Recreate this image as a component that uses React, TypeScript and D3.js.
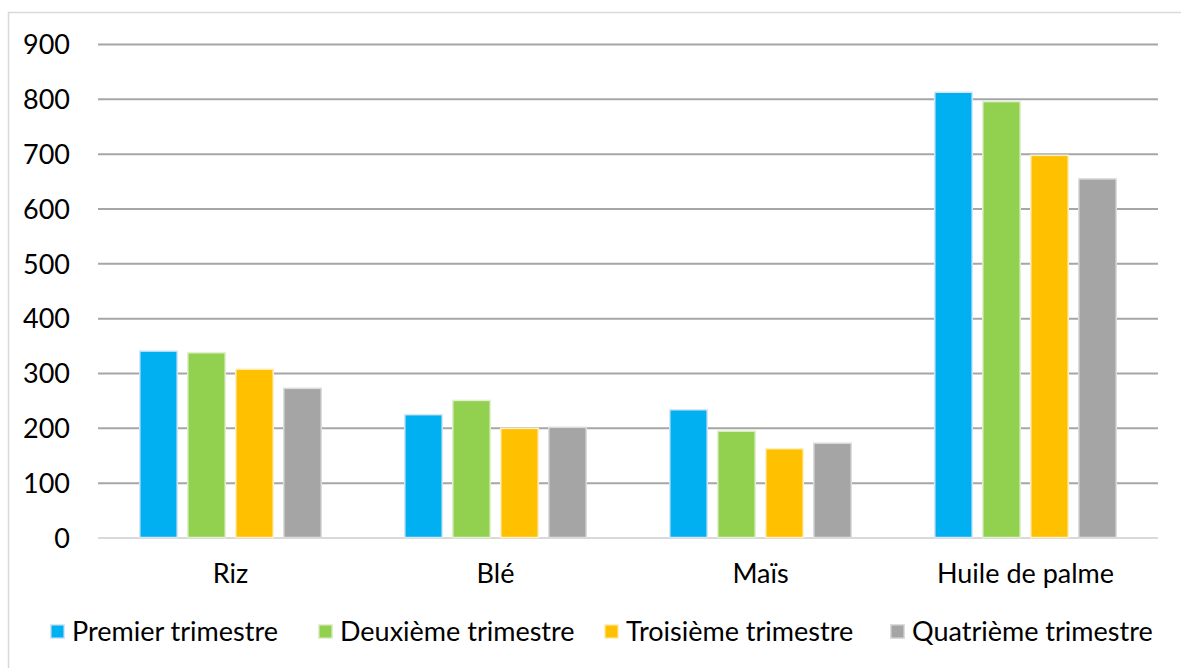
import { useEffect, useRef } from "react";
import { select, scaleLinear, scaleBand, axisLeft, axisBottom } from "d3";

// 数据：类别与四个季度的数值
const categories = ["Riz", "Blé", "Maïs", "Huile de palme"];
const seriesNames = [
  "Premier trimestre",
  "Deuxième trimestre",
  "Troisième trimestre",
  "Quatrième trimestre",
];
const premier = [340, 224, 233, 812];
const deuxieme = [337, 250, 194, 795];
const troisieme = [307, 199, 162, 697];
const quatrieme = [272, 201, 172, 654];
const yTicks = [0, 100, 200, 300, 400, 500, 600, 700, 800, 900];

const colors = ["#00b0f0", "#92d050", "#ffc000", "#a5a5a5"];
const strokes = ["#d6e6f7", "#e2f0cf", "#fff0c2", "#dcdcdc"];

const WIDTH = 1181;
const HEIGHT = 668;
const FONT = "Lato, 'Open Sans', sans-serif";
const FONT_SIZE = 27;

const drawChart = (el: SVGSVGElement) => {
  const svg = select(el);
  svg.selectAll("*").remove();

  const values = [premier, deuxieme, troisieme, quatrieme];

  const marginLeft = 98,
    marginRight = 23;
  const plotTop = 44,
    plotBottom = 537.5;

  // 比例尺
  const y = scaleLinear([0, 900], [plotBottom, plotTop]);
  const x = scaleBand(categories, [marginLeft, WIDTH - marginRight]);
  const xInner = scaleBand(seriesNames, [0, x.bandwidth()])
    .paddingInner(0.22)
    .paddingOuter(0.87);

  // 外框
  svg
    .append("rect")
    .attr("x", 8.5)
    .attr("y", 12.5)
    .attr("width", WIDTH + 20)
    .attr("height", HEIGHT + 20)
    .attr("fill", "#fff")
    .attr("stroke", "#d9d9d9")
    .attr("stroke-width", 1.5);

  // 网格线 + y轴刻度
  const gy = svg
    .append("g")
    .attr("transform", `translate(${marginLeft},0)`)
    .call(
      axisLeft(y)
        .tickValues(yTicks)
        .tickSize(-(WIDTH - marginRight - marginLeft))
        .tickPadding(28)
    );
  gy.select(".domain").remove();
  gy.selectAll(".tick line")
    .attr("stroke", (d: any) => (d === 0 ? "#d9d9d9" : "#a6a6a6"))
    .attr("stroke-width", 2);
  gy.selectAll(".tick text")
    .attr("font-family", FONT)
    .attr("font-size", FONT_SIZE)
    .attr("fill", "#000")
    .attr("dy", "0.36em");

  // 柱形
  const groups = svg
    .append("g")
    .selectAll("g")
    .data(seriesNames)
    .enter()
    .append("g")
    .attr("fill", (d, i) => colors[i])
    .attr("stroke", (d, i) => strokes[i])
    .attr("stroke-width", 1.5);
  groups
    .selectAll("rect")
    .data((d, i) => values[i].map((v, j) => ({ s: d, c: categories[j], v })))
    .enter()
    .append("rect")
    .attr("x", (d) => (x(d.c) as number) + (xInner(d.s) as number))
    .attr("y", (d) => y(d.v))
    .attr("width", xInner.bandwidth())
    .attr("height", (d) => y(0) - y(d.v));

  // x轴标签
  const gx = svg
    .append("g")
    .attr("transform", `translate(0,${plotBottom})`)
    .call(axisBottom(x).tickSize(0).tickPadding(26));
  gx.select(".domain").remove();
  gx.selectAll(".tick text")
    .attr("font-family", FONT)
    .attr("font-size", FONT_SIZE)
    .attr("fill", "#000")
    .attr("dy", "0.71em");

  // 图例
  const legendX = [50, 318, 604, 890];
  const legend = svg
    .append("g")
    .selectAll("g")
    .data(seriesNames)
    .enter()
    .append("g")
    .attr("transform", (d, i) => `translate(${legendX[i]},624)`);
  legend
    .append("rect")
    .attr("x", 0.75)
    .attr("y", 0.75)
    .attr("width", 13.5)
    .attr("height", 13.5)
    .attr("fill", (d, i) => colors[i])
    .attr("stroke", (d, i) => strokes[i])
    .attr("stroke-width", 1.5);
  legend
    .append("text")
    .attr("x", 22)
    .attr("y", 16.5)
    .attr("font-family", FONT)
    .attr("font-size", FONT_SIZE)
    .attr("fill", "#000")
    .text((d) => d);
};

const App = () => {
  const ref = useRef<SVGSVGElement>(null);
  useEffect(() => {
    if (ref.current) drawChart(ref.current);
  }, []);
  return (
    <svg
      ref={ref}
      width={WIDTH}
      height={HEIGHT}
      style={{ position: "absolute", left: 0, top: 0, background: "#fff" }}
    />
  );
};

export default App;
